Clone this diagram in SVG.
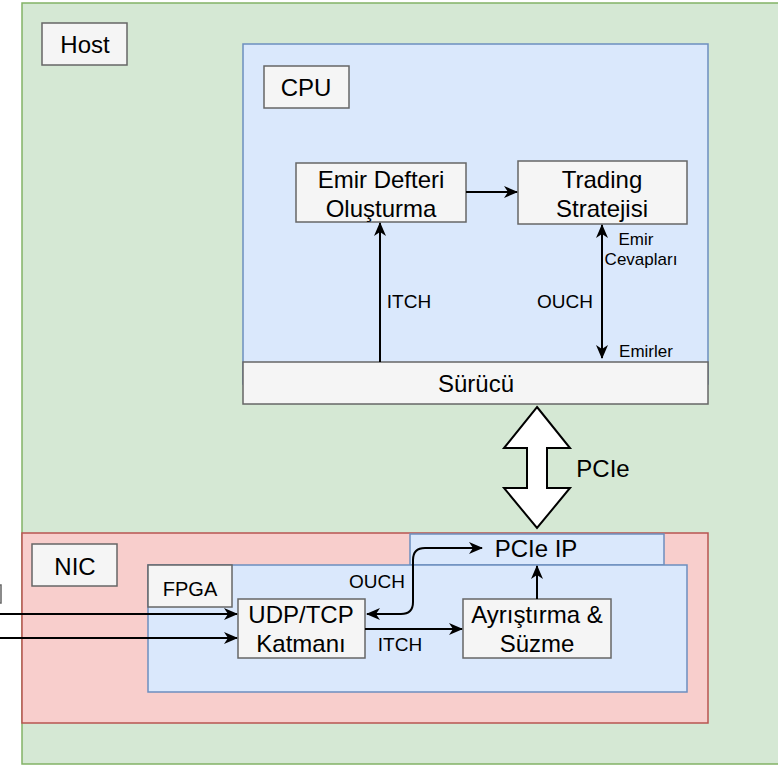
<svg xmlns="http://www.w3.org/2000/svg" width="778" height="767" viewBox="0 0 778 767">
<defs>
<style>
text{font-family:"Liberation Sans",Arial,Helvetica,sans-serif;fill:#000;text-anchor:middle}
.lbl{fill:#f5f5f5;stroke:#666;stroke-width:1.5}
.blue{fill:#dae8fc;stroke:#6c8ebf;stroke-width:1.5}
.n{font-size:24px}
.s{font-size:19px}
.e{fill:none;stroke:#000;stroke-width:2}
</style>
<marker id="ah" viewBox="0 0 14 12" refX="13" refY="6" markerWidth="14" markerHeight="12" markerUnits="userSpaceOnUse" orient="auto-start-reverse">
<path d="M0,0 L14,6 L0,12 L4,6 Z" fill="#000"/>
</marker>
</defs>
<g id="host">
<rect x="22" y="3" width="780" height="761" fill="#d5e8d4" stroke="#82b366" stroke-width="1.5"/>
<rect class="lbl" x="42" y="23" width="85" height="42"/>
<text class="n" x="85" y="53">Host</text>
</g>
<g id="offscreen">
<rect class="lbl" x="-40" y="585" width="41" height="18"/>
</g>
<g id="cpu">
<rect class="blue" x="243" y="44" width="465" height="340"/>
<rect class="lbl" x="264" y="66" width="85" height="42"/>
<text class="n" x="306" y="96">CPU</text>
</g>
<g id="emir-defteri">
<rect class="lbl" x="296" y="163" width="170" height="59"/>
<text class="n" x="381" y="188">Emir Defteri</text>
<text class="n" x="381" y="217">Oluşturma</text>
</g>
<g id="trading">
<rect class="lbl" x="518" y="161" width="169" height="63"/>
<text class="n" x="602" y="188">Trading</text>
<text class="n" x="602" y="217">Stratejisi</text>
</g>
<g id="surucu">
<rect class="lbl" x="243" y="362" width="465" height="42"/>
<text class="n" x="476" y="392">Sürücü</text>
</g>
<g id="nic">
<rect x="22" y="533" width="686" height="190" fill="#f8cecc" stroke="#b85450" stroke-width="1.5"/>
<rect class="lbl" x="32" y="544" width="85" height="42"/>
<text class="n" x="75" y="575">NIC</text>
</g>
<g id="pcie-ip">
<rect class="blue" x="410" y="534" width="254" height="31"/>
<text class="n" x="536" y="557">PCIe IP</text>
</g>
<g id="fpga">
<rect class="blue" x="148" y="565" width="539" height="127"/>
<rect class="lbl" x="148" y="565" width="84" height="42"/>
<text style="font-size:20px" x="190" y="596">FPGA</text>
</g>
<g id="udp-tcp">
<rect class="lbl" x="238" y="599" width="127" height="59"/>
<text class="n" x="301" y="623">UDP/TCP</text>
<text class="n" x="301" y="652">Katmanı</text>
</g>
<g id="ayristirma">
<rect class="lbl" x="463" y="599" width="148" height="59"/>
<text class="n" x="537" y="623">Ayrıştırma &amp;</text>
<text class="n" x="537" y="652">Süzme</text>
</g>
<g id="connectors">
<path class="e" d="M466,192 L517,192" marker-end="url(#ah)"/>
<path class="e" d="M380,362 L380,223" marker-end="url(#ah)"/>
<path class="e" d="M602,225 L602,358" marker-start="url(#ah)" marker-end="url(#ah)"/>
<polygon points="537,407 570,448 547,448 547,488 570,488 537,528 504,488 527,488 527,448 504,448" fill="#fff" stroke="#000" stroke-width="2"/>
<path class="e" d="M0,614 L237,614" marker-end="url(#ah)"/>
<path class="e" d="M0,638 L237,638" marker-end="url(#ah)"/>
<path class="e" d="M365,629 L462,629" marker-end="url(#ah)"/>
<path class="e" d="M537,599 L537,566" marker-end="url(#ah)"/>
<path class="e" d="M367,614 L401,614 Q413,614 413,602 L413,560 Q413,548 425,548 L482,548" marker-start="url(#ah)" marker-end="url(#ah)"/>
<text class="s" x="409" y="308">ITCH</text>
<text class="s" x="565" y="308">OUCH</text>
<text style="font-size:17px" x="636" y="245">Emir</text>
<text style="font-size:17px" x="641" y="265">Cevapları</text>
<text style="font-size:17px" x="646" y="357">Emirler</text>
<text x="603" y="477" style="font-size:24px">PCIe</text>
<text class="s" x="377" y="588">OUCH</text>
<text class="s" x="400" y="651">ITCH</text>
</g>
</svg>
